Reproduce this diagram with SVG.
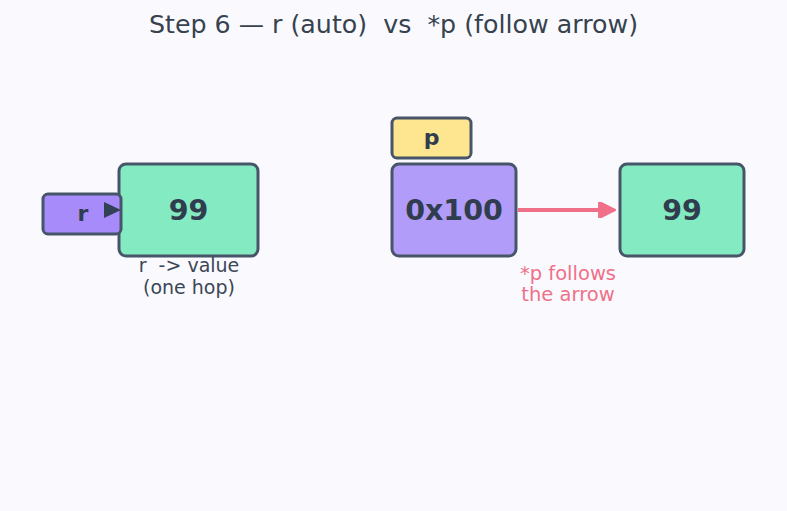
<svg xmlns="http://www.w3.org/2000/svg" width="787" height="511" viewBox="0 0 787 511">
<defs>
<style>
text{font-family:"DejaVu Sans",sans-serif;white-space:pre}
.box{stroke:#475569;stroke-width:3}
.big{font-size:28.5px;font-weight:bold;fill:#2f3d4e;text-anchor:middle}
.lab{font-size:19px;fill:#3b4656;text-anchor:middle}
.pink{font-size:19.5px;fill:#f0708a;text-anchor:middle}
</style>
<marker id="ah" viewBox="0 0 10 10" refX="9" refY="5" markerWidth="4.5" markerHeight="4.2" orient="auto" markerUnits="strokeWidth">
<path d="M0,0 L10,5 L0,10 z" fill="#f0708a" stroke="#f0708a" stroke-width="1" stroke-linejoin="round"/>
</marker>
</defs>
<rect width="787" height="511" fill="#fafafe"/>
<text x="393.5" y="33" font-size="25.3" fill="#37424f" text-anchor="middle" xml:space="preserve">Step 6 — r (auto)  vs  *p (follow arrow)</text>
<g id="val-left">
<rect class="box" x="119" y="164" width="139" height="92" rx="7" fill="#84eac2"/>
<text class="big" x="188.5" y="220">99</text>
<text class="lab" x="189" y="272" xml:space="preserve">r  -&gt; value</text>
<text class="lab" x="189" y="294">(one hop)</text>
</g>
<g id="ref-r">
<rect class="box" x="43" y="194" width="78" height="40" rx="5" fill="#a78bfa"/>
<text x="83" y="221" font-size="22" font-weight="bold" fill="#2f3d4e" text-anchor="middle">r</text>
<path d="M104,202 L121,210 L104,218 z" fill="#334155"/>
</g>
<g id="p-label">
<rect class="box" x="392" y="118" width="79" height="40" rx="5" fill="#fde68f"/>
<text x="431.5" y="145" font-size="22" font-weight="bold" fill="#2f3d4e" text-anchor="middle">p</text>
</g>
<g id="ptr">
<rect class="box" x="392" y="164" width="124" height="92" rx="7" fill="#b19cf9"/>
<text class="big" x="454" y="220">0x100</text>
</g>
<g id="val-right">
<rect class="box" x="620" y="164" width="124" height="92" rx="7" fill="#84eac2"/>
<text class="big" x="682" y="220">99</text>
</g>
<g id="connectors">
<line x1="518" y1="210" x2="614" y2="210" stroke="#f0708a" stroke-width="4" marker-end="url(#ah)"/>
<text class="pink" x="568" y="280">*p follows</text>
<text class="pink" x="568" y="301">the arrow</text>
</g>
</svg>
